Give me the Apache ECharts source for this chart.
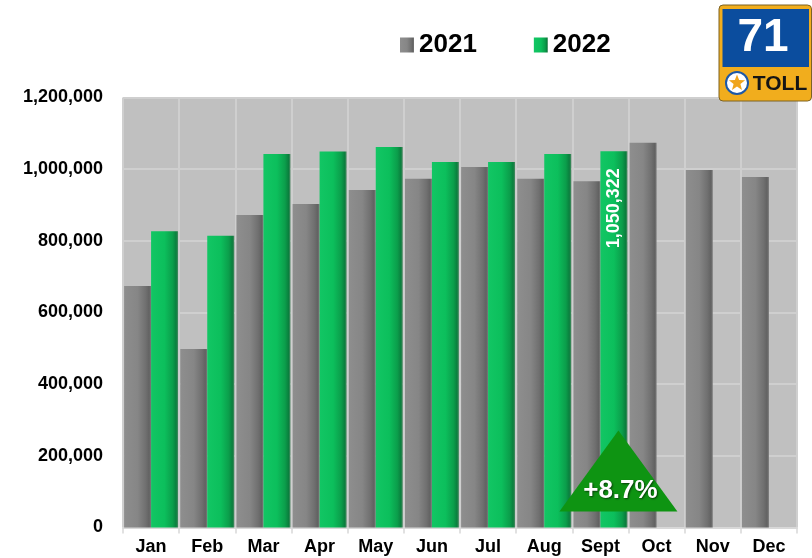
<!DOCTYPE html>
<html>
<head>
<meta charset="utf-8">
<title>SH 71 Toll Transactions</title>
<script src="https://cdn.jsdelivr.net/npm/echarts@6/dist/echarts.min.js"></script>
<style>
  html, body { margin: 0; padding: 0; background: #ffffff; }
  #chart { width: 812px; height: 558px; }
</style>
</head>
<body>
<div id="chart"></div>
<script>
// Monthly toll transactions
const months = ['Jan', 'Feb', 'Mar', 'Apr', 'May', 'Jun', 'Jul', 'Aug', 'Sept', 'Oct', 'Nov', 'Dec'];
const traffic2021 = [674000, 498000, 872000, 903000, 942000, 973000, 1006000, 973000, 966000, 1074000, 998000, 978000];
const traffic2022 = [827000, 814000, 1042000, 1049000, 1062000, 1020000, 1020000, 1042000, 1050322, null, null, null];
const yMin = 0;
const yMax = 1200000;
const yStep = 200000;
const labelledMonth = 'Sept';

const FONT = '"Liberation Sans", Arial, sans-serif';
const fmt = v => Number(v).toLocaleString('en-US');

const grayFill = new echarts.graphic.LinearGradient(0, 0, 1, 0, [
  { offset: 0, color: '#8e8e8e' },
  { offset: 0.5, color: '#868686' },
  { offset: 0.8, color: '#707070' },
  { offset: 0.93, color: '#626262' },
  { offset: 1, color: '#7a7a7a' }
]);
const greenFill = new echarts.graphic.LinearGradient(0, 0, 1, 0, [
  { offset: 0, color: '#12c664' },
  { offset: 0.5, color: '#0cbf5c' },
  { offset: 0.8, color: '#0b9e4b' },
  { offset: 0.93, color: '#0a7f3e' },
  { offset: 1, color: '#4a8a62' }
]);

const labelIdx = months.indexOf(labelledMonth);
const data2022 = traffic2022.map((v, i) => i === labelIdx ? {
  value: v,
  label: {
    show: true,
    position: 'insideTop',
    distance: 17,
    rotate: 90,
    align: 'right',
    verticalAlign: 'middle',
    color: '#ffffff',
    fontFamily: FONT,
    fontWeight: 'bold',
    fontSize: 18,
    formatter: p => fmt(p.value)
  }
} : v);

const chart = echarts.init(document.getElementById('chart'), null, { renderer: 'canvas' });

chart.setOption({
  animation: false,
  backgroundColor: '#ffffff',
  textStyle: { fontFamily: FONT },
  legend: {
    data: ['2021', '2022'],
    left: 395,
    top: 27,
    icon: 'rect',
    itemWidth: 14,
    itemHeight: 15,
    itemGap: 57,
    textStyle: { fontFamily: FONT, fontSize: 26, fontWeight: 'bold', color: '#000000' }
  },
  grid: {
    left: 123,
    right: 15,
    top: 97.5,
    bottom: 30.5,
    show: true,
    backgroundColor: '#c0c0c0',
    borderWidth: 0
  },
  xAxis: {
    type: 'category',
    data: months,
    boundaryGap: true,
    axisLine: { show: true, lineStyle: { color: '#d8d8d8', width: 2 } },
    axisTick: { show: true, length: 6, lineStyle: { color: '#d8d8d8', width: 1.5 } },
    splitLine: { show: true, lineStyle: { color: '#cfcfcf', width: 2 } },
    axisLabel: {
      fontFamily: FONT, fontSize: 18, fontWeight: 'bold', color: '#000000', margin: 11
    }
  },
  yAxis: {
    type: 'value',
    min: yMin,
    max: yMax,
    interval: yStep,
    axisLine: { show: false },
    axisTick: { show: false },
    splitLine: { show: true, lineStyle: { color: '#cfcfcf', width: 2 } },
    axisLabel: {
      fontFamily: FONT, fontSize: 18, fontWeight: 'bold', color: '#000000', margin: 20,
      formatter: v => fmt(v)
    }
  },
  series: [
    {
      name: '2021',
      type: 'bar',
      data: traffic2021,
      barGap: '0%',
      barCategoryGap: '4%',
      itemStyle: { color: grayFill }
    },
    {
      name: '2022',
      type: 'bar',
      data: data2022,
      barGap: '0%',
      barCategoryGap: '4%',
      itemStyle: { color: greenFill }
    }
  ]
});

// Year-over-year change for the latest reported month
const prev = traffic2021[labelIdx];
const curr = traffic2022[labelIdx];
const pct = (curr / prev - 1) * 100;
const pctText = (pct >= 0 ? '+' : '') + pct.toFixed(1) + '%';

const base = chart.convertToPixel({ xAxisIndex: 0, yAxisIndex: 0 }, [labelledMonth, 0]);
const triCx = base[0] + 18;
const triBase = base[1] - 16;
const triW = 118;
const triH = 81;

// Star points for the toll shield emblem
function starPoints(cx, cy, rOuter, rInner) {
  const pts = [];
  for (let i = 0; i < 10; i++) {
    const a = (-90 + i * 36) * Math.PI / 180;
    const r = i % 2 === 0 ? rOuter : rInner;
    pts.push([cx + r * Math.cos(a), cy + r * Math.sin(a)]);
  }
  return pts;
}

chart.setOption({
  graphic: [
    {
      type: 'polygon',
      z: 50,
      shape: { points: [[triCx, triBase - triH], [triCx + triW / 2, triBase], [triCx - triW / 2, triBase]] },
      style: { fill: '#0e9412' }
    },
    {
      type: 'text',
      z: 51,
      x: triCx + 2,
      y: triBase - 21,
      style: {
        text: pctText,
        fill: '#ffffff',
        font: 'bold 26px ' + FONT,
        textAlign: 'center',
        textVerticalAlign: 'middle',
        textShadowColor: 'rgba(0,0,0,0.6)',
        textShadowBlur: 2,
        textShadowOffsetX: 1,
        textShadowOffsetY: 1
      }
    },
    // SH 71 toll shield
    {
      type: 'group',
      z: 60,
      children: [
        {
          type: 'rect',
          shape: { x: 719, y: 5, width: 92.5, height: 96, r: 4 },
          style: { fill: '#f1ad1d', stroke: '#7d6222', lineWidth: 1 }
        },
        {
          type: 'rect',
          shape: { x: 722.5, y: 9, width: 86.5, height: 58 },
          style: { fill: '#0b4d9e' }
        },
        {
          type: 'text',
          x: 763,
          y: 38,
          style: {
            text: '71', fill: '#ffffff', font: 'bold 46px ' + FONT,
            textAlign: 'center', textVerticalAlign: 'middle'
          }
        },
        {
          type: 'circle',
          shape: { cx: 737, cy: 83, r: 11 },
          style: { fill: '#ffffff', stroke: '#1d58a6', lineWidth: 2 }
        },
        {
          type: 'polygon',
          shape: { points: starPoints(737, 83, 8.5, 3.6) },
          style: { fill: '#f0a51c' }
        },
        {
          type: 'text',
          x: 780,
          y: 84,
          style: {
            text: 'TOLL', fill: '#151515', font: 'bold 21px ' + FONT,
            textAlign: 'center', textVerticalAlign: 'middle'
          }
        }
      ]
    }
  ]
});
</script>
</body>
</html>
